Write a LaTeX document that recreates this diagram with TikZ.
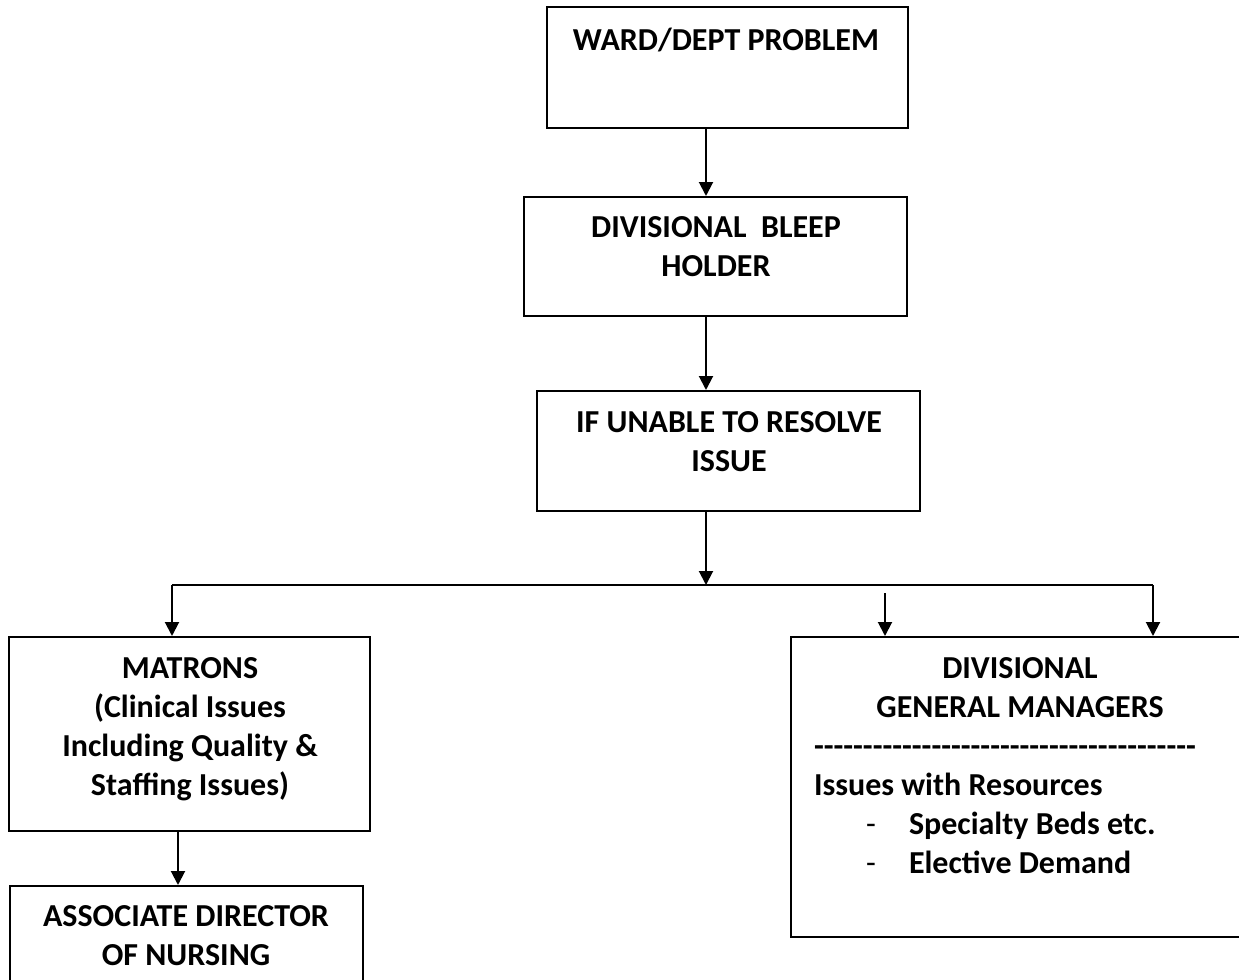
\documentclass[tikz,border=0pt]{standalone}
\usepackage{fontspec}
\setmainfont{Carlito}
\usetikzlibrary{arrows.meta}
\usetikzlibrary{positioning}

\newcommand{\dashrow}{\foreach \n in {1,...,39}{\mbox{-}}}
\newcommand{\bulletdash}{\hspace*{26pt}\makebox[21.5pt][l]{\mdseries -}}

\begin{document}
\begin{tikzpicture}[x=0.5pt, y=-0.5pt, line width=1pt,
	font=\fontsize{16}{19.5}\selectfont\bfseries]
	\useasboundingbox (0,0) rectangle (1239,980);
	\clip (0,0) rectangle (1239,980);

	\begin{scope}[every node/.style={draw, rectangle, inner sep=0}]
		\node[minimum width=180.5pt, minimum height=60.5pt] (ward) at (727.5,67.5) {};
		\node[minimum width=191.5pt, minimum height=59.5pt] (bleep) at (715.5,256.5) {};
		\node[minimum width=191.5pt, minimum height=60pt] (resolve) at (728.5,451) {};
		\node[minimum width=180.5pt, minimum height=97pt] (matrons) at (189.5,734) {};
		\node[minimum width=176.5pt, minimum height=57pt] (adn) at (186.5,943) {};
		\node[minimum width=229.5pt, minimum height=150pt] (managers) at (1020.5,787) {};
	\end{scope}

	% base anchor sits on the last line
	\begin{scope}[every node/.style={align=center, inner sep=0, anchor=base}]
		\node (wardtxt) at (726,50) {WARD/DEPT PROBLEM};
		\node (bleeptxt) at (716,276) {DIVISIONAL\ \ BLEEP\\HOLDER};
		\node (resolvetxt) at (729,471) {IF UNABLE TO RESOLVE\\ISSUE};
		\node (matronstxt) at (190,795) {MATRONS\\(Clinical Issues\\Including Quality \&\\Staffing Issues)};
		\node (adntxt) at (186,965) {ASSOCIATE DIRECTOR\\OF NURSING};
		\node (managerstxt) at (1020,717) {DIVISIONAL\\GENERAL MANAGERS};
		\node[align=left, anchor=base west] (resources) at (813,873)
			{\dashrow\\Issues with Resources\\\bulletdash Specialty Beds etc.\\\bulletdash Elective Demand};
	\end{scope}

	\coordinate (spine) at (706,0);
	\coordinate (fork) at (706,585);
	\coordinate (forkL) at (172,585);
	\coordinate (forkR) at (1153,585);
	\coordinate (dropR) at (885,593);
	\coordinate (adnline) at (178,0);

	\begin{scope}[>={Triangle[length=7pt,width=7pt]}]
		\draw[->] (ward.south -| spine) -- (bleep.north -| spine);
		\draw[->] (bleep.south -| spine) -- (resolve.north -| spine);
		\draw[->] (resolve.south -| spine) -- (fork);
		\draw (forkL) -- (forkR);
		\draw[->] (forkL) -- (matrons.north -| forkL);
		\draw[->] (dropR) -- (managers.north -| dropR);
		\draw[->] (forkR) -- (managers.north -| forkR);
		\draw[->] (matrons.south -| adnline) -- (adn.north -| adnline);
	\end{scope}
\end{tikzpicture}
\end{document}
